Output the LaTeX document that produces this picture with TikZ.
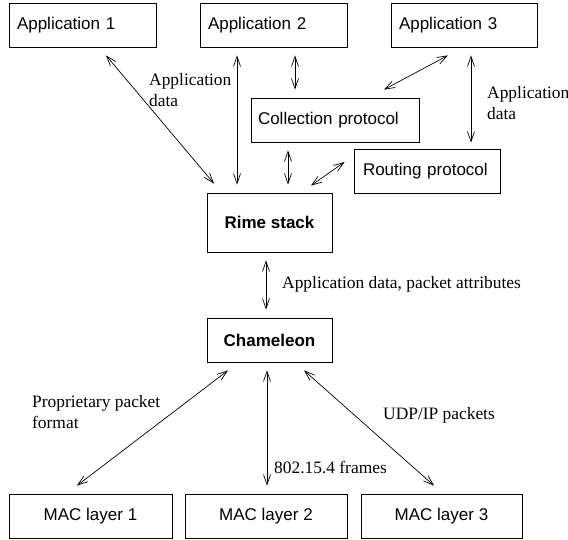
\documentclass[tikz,border=0pt]{standalone}
\usepackage{fontspec}
\setmainfont{Liberation Serif}
\setsansfont{Liberation Sans}
\usetikzlibrary{arrows.meta}

\begin{document}
\begin{tikzpicture}[x=1pt,y=-1pt,
  box/.style={draw, line width=0.8pt, minimum height=44pt, inner ysep=0pt,
              font=\sffamily\fontsize{17}{20}\selectfont},
  link/.style={<->, >={Straight Barb[length=10pt,width=7pt]}, line width=0.7pt},
  lbl/.style={inner sep=0pt, anchor=west, align=left,
              font=\fontsize{17.4}{21}\selectfont}]
\useasboundingbox (0,0) rectangle (568,539);

% applications
\node[box, text width=131pt, inner xsep=8pt, align=left] (app1) at (82.5,25) {Application 1};
\node[box, text width=131pt, inner xsep=8pt, align=left] (app2) at (273.5,25) {Application 2};
\node[box, text width=130pt, inner xsep=8pt, align=left] (app3) at (464,25) {Application 3};

% protocols
\node[box, text width=154pt, inner xsep=7pt, align=left] (coll) at (335,120) {Collection protocol};
\node[box, text width=128pt, inner xsep=9pt, align=left] (rout) at (427,171) {Routing protocol};

% rime and chameleon
\node[box, minimum width=125pt, minimum height=59pt, font=\sffamily\bfseries\fontsize{17}{20}\selectfont]
      (rime) at (269.5,222.5) {Rime stack};
\node[box, minimum width=125pt, font=\sffamily\bfseries\fontsize{17}{20}\selectfont]
      (cham) at (269.5,340) {Chameleon};

% mac layers
\node[box, minimum width=163pt] (mac1) at (90.5,516) {MAC layer 1};
\node[box, minimum width=162pt] (mac2) at (266,516) {MAC layer 2};
\node[box, minimum width=161pt] (mac3) at (441.5,516) {MAC layer 3};

% arrows
\draw[link] ([xshift=23.5pt,yshift=-8pt]app1.south) -- ([xshift=-55.5pt,yshift=9pt]rime.north);
\draw[link] ([xshift=-36.5pt,yshift=-8pt]app2.south) -- ([xshift=-32.5pt,yshift=8pt]rime.north);
\draw[link] ([xshift=21.5pt,yshift=-8pt]app2.south) -- ([xshift=-40pt,yshift=8pt]coll.north);
\draw[link] ([xshift=-16pt,yshift=-8pt]app3.south) -- ([xshift=49pt,yshift=8pt]coll.north);
\draw[link] ([xshift=7pt,yshift=-8pt]app3.south) -- ([xshift=44pt,yshift=6pt]rout.north);
\draw[link] ([xshift=-47pt,yshift=-8pt]coll.south) -- ([xshift=18.5pt,yshift=8pt]rime.north);
\draw[link] ([xshift=-9pt,yshift=9pt]rout.west) -- ([xshift=41.5pt,yshift=7pt]rime.north);
\draw[link] ([xshift=-3.5pt,yshift=-8pt]rime.south) -- ([xshift=-3.5pt,yshift=8pt]cham.north);
\draw[link] ([xshift=-41.5pt,yshift=-8pt]cham.south) -- ([xshift=-13.5pt,yshift=8pt]mac1.north);
\draw[link] ([xshift=-2.5pt,yshift=-8pt]cham.south) -- ([xshift=1pt,yshift=8pt]mac2.north);
\draw[link] ([xshift=34.5pt,yshift=-8pt]cham.south) -- ([xshift=-7.5pt,yshift=8pt]mac3.north);

% labels
\node[lbl] (appdataL) at (149,90) {Application\\data};
\node[lbl] (appdataR) at (487,103) {Application\\data};
\node[lbl] (attrs) at (282,284) {Application data, packet attributes};
\node[lbl] (propfmt) at (32,412) {Proprietary packet\\format};
\node[lbl] (frames) at (274,467) {802.15.4 frames};
\node[lbl] (udpip) at (383,415) {UDP/IP packets};
\end{tikzpicture}
\end{document}
